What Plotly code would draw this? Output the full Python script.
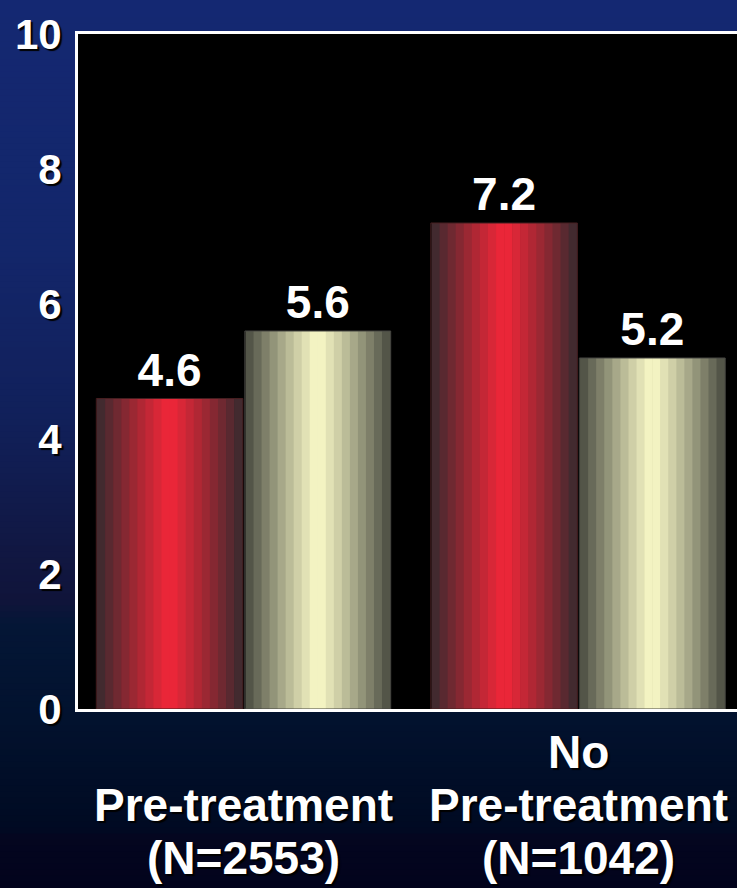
import plotly.graph_objects as go

# ---- data -----------------------------------------------------------------
category_lines = [
    ["Pre-treatment", "(N=2553)"],
    ["No", "Pre-treatment", "(N=1042)"],
]
red_values = [4.6, 7.2]
cream_values = [5.6, 5.2]
y_ticks = [0, 2, 4, 6, 8, 10]

# ---- styling ---------------------------------------------------------------
FONT = "Liberation Sans, Arial, sans-serif"
SHADOW = "2px 2px 1px #000000"
W, H = 737, 888
M_L, M_R, M_T, M_B = 78, 0, 34, 179
N_STRIPS = 18
LABEL_SIZE = 46
LABEL_ROWS = [858, 805, 752]  # pixel rows of the last, second-last, ... label line

series = [
    # values, offset, width, centre colour, edge colour, outline colour
    (red_values, -0.438, 0.434, (242, 38, 56), (55, 42, 46), (70, 30, 32)),
    (cream_values, 0.006, 0.432, (250, 250, 200), (72, 74, 64), (70, 70, 66)),
]


def mix(c1, c2, t):
    return tuple(round(a + (b - a) * t) for a, b in zip(c1, c2))


def rgb(c):
    return "rgb(%d,%d,%d)" % c


plot_h = H - M_T - M_B
plot_w = W - M_L - M_R


def py_to_paper(py):
    return (H - M_B - py) / plot_h


x_pos = list(range(len(category_lines)))
fig = go.Figure()

# shaded bars: each bar is built from narrow vertical strips whose colour
# runs from a dark edge to a bright centre and back again
for values, off, width, centre, edge, outline in series:
    sw = width / N_STRIPS
    for k in range(N_STRIPS):
        t = (k + 0.5) / N_STRIPS
        d = abs(2 * t - 1)
        col = mix(centre, edge, d ** 1.1)
        fig.add_trace(go.Bar(
            x=x_pos, y=values,
            offset=off + k * sw, width=sw * 1.08,
            marker=dict(color=rgb(col), line=dict(width=0)),
            hoverinfo="skip", showlegend=False,
        ))
    # thin outline and the value label on top
    fig.add_trace(go.Bar(
        x=x_pos, y=values,
        offset=off - 0.002, width=width + 0.004,
        marker=dict(color="rgba(0,0,0,0)", line=dict(color=rgb(outline), width=1)),
        text=["%.1f" % v for v in values],
        textposition="outside",
        textfont=dict(family=FONT, size=46, color="white", weight="bold", shadow=SHADOW),
        cliponaxis=False, showlegend=False,
    ))

# ---- category labels under the axis, one line each, bottom-aligned ----------
annotations = []
for xi, lines in zip(x_pos, category_lines):
    for row, line in zip(LABEL_ROWS, reversed(lines)):
        annotations.append(dict(
            x=xi, xref="x", y=py_to_paper(row), yref="paper",
            text=line, showarrow=False, xanchor="center", yanchor="middle",
            font=dict(family=FONT, size=LABEL_SIZE, color="white",
                      weight="bold", shadow=SHADOW),
        ))

# ---- background: vertical navy gradient behind a black plot area ----------
bg_stops = [  # (pixel row, colour)
    (0, (20, 40, 114)),
    (250, (19, 38, 106)),
    (420, (17, 32, 90)),
    (540, (17, 24, 68)),
    (600, (16, 20, 58)),
    (625, (4, 22, 54)),
    (720, (2, 18, 46)),
    (830, (0, 10, 34)),
    (835, (4, 6, 32)),
    (888, (2, 3, 28)),
]

shapes = []
step = 6
for y0 in range(0, H, step):
    y1 = min(H, y0 + step)
    ym = (y0 + y1) / 2
    for (a, ca), (b, cb) in zip(bg_stops[:-1], bg_stops[1:]):
        if a <= ym <= b:
            col = mix(ca, cb, (ym - a) / (b - a))
            break
    shapes.append(dict(
        type="rect", xref="paper", yref="paper", layer="below",
        x0=-M_L / plot_w - 0.01, x1=1.01,
        y0=py_to_paper(y1 + 0.5), y1=py_to_paper(y0 - 0.5),
        fillcolor=rgb(col), line=dict(width=0),
    ))
shapes.append(dict(
    type="rect", xref="paper", yref="paper", layer="below",
    x0=0, x1=1.01, y0=0, y1=1, fillcolor="black", line=dict(width=0),
))

fig.update_layout(
    width=W, height=H,
    margin=dict(l=M_L, r=M_R, t=M_T, b=M_B, pad=0),
    paper_bgcolor=rgb(bg_stops[-1][1]),
    plot_bgcolor="rgba(0,0,0,0)",
    barmode="overlay",
    shapes=shapes,
    annotations=annotations,
    showlegend=False,
    xaxis=dict(
        range=[-0.4948, 1.4753],
        tickvals=x_pos,
        showticklabels=False,
        showline=True, linecolor="white", linewidth=3, mirror=True,
        showgrid=False, zeroline=False, ticks="",
    ),
    yaxis=dict(
        range=[0, 10],
        tickvals=y_ticks,
        ticktext=[str(v) for v in y_ticks],
        tickfont=dict(family=FONT, size=42, color="white", weight="bold", shadow=SHADOW),
        showline=True, linecolor="white", linewidth=3, mirror=False,
        showgrid=False, zeroline=False, ticks="",
        ticklabelstandoff=5,
    ),
)

fig.write_html("out.html")
